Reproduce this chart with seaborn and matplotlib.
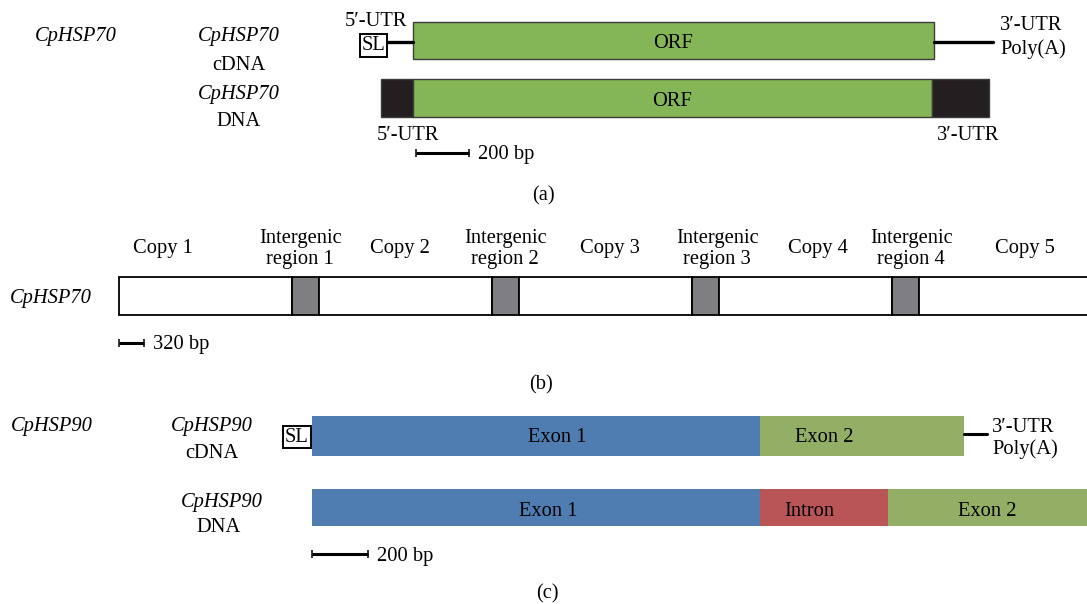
import numpy as np
import matplotlib.pyplot as plt
import seaborn as sns

# (a) CpHSP70 cDNA / DNA, lengths in bp
a_cdna_utr5_bp = 106
a_cdna_orf_bp = 1966
a_cdna_utr3_bp = 223
a_dna_parts = ["5′-UTR", "ORF", "3′-UTR"]
a_dna_bp = [121, 1958, 215]
a_scale_bp = 200

# (b) CpHSP70 tandem copies, lengths in bp
b_parts = ["Copy 1", "Intergenic\nregion 1", "Copy 2", "Intergenic\nregion 2", "Copy 3",
           "Intergenic\nregion 3", "Copy 4", "Intergenic\nregion 4", "Copy 5"]
b_bp = [2210, 350, 2210, 350, 2210, 350, 2210, 350, 2210]
b_scale_bp = 320

# (c) CpHSP90 cDNA / DNA, lengths in bp
c_cdna_parts = ["Exon 1", "Exon 2"]
c_cdna_bp = [1600, 729]
c_cdna_utr3_bp = 82
c_dna_parts = ["Exon 1", "Intron", "Exon 2"]
c_dna_bp = [1600, 457, 729]
c_scale_bp = 200

sns.set_style("white")
plt.rcParams['font.family'] = ['Liberation Serif', 'DejaVu Serif']
plt.rcParams['text.color'] = 'black'
fs = 14.8
dy = 2  # small vertical nudge so text sits like the original

ORF_GREEN = '#84b657'
UTR_BLACK = '#231f20'
IGR_GREY = '#7f7f83'
EXON1 = '#4f7cb1'
EXON2 = '#93af66'
INTRON = '#b95457'

fig = plt.figure(figsize=(10.87, 6.04), dpi=100)
ax = fig.add_axes([0, 0, 1, 1])
ax.set_xlim(0, 1087)
ax.set_ylim(604, 0)
ax.axis('off')


def label(x, y, s, **kw):
    kw.setdefault('ha', 'center')
    ax.text(x, y + dy, s, fontsize=fs, va='center', **kw)


def track(y, lengths_bp, x0, scale, height, colors, ec='none', lw=0):
    px = np.array(lengths_bp) * scale
    lefts = x0 + np.concatenate([[0], np.cumsum(px)[:-1]])
    ax.barh(y, px, left=lefts, height=height, color=colors, edgecolor=ec, linewidth=lw)
    return lefts, px


def scale_bar(x0, y, length_bp, scale, text):
    ax.plot([x0, x0 + length_bp * scale], [y, y], color='black', lw=2.2,
            marker='|', ms=6, mew=1.1, solid_capstyle='butt')
    label(x0 + length_bp * scale + 9, y, text, ha='left')


def sl_box(x, y):
    ax.text(x, y + 1, "SL", fontsize=fs, ha='center', va='center',
            bbox=dict(boxstyle='square,pad=0.08', fc='white', ec='black', lw=1.4))


# ---------- panel (a) ----------
a_x0, a_sc = 413, 53 / 200
label(76, 35, "CpHSP70", style='italic')
label(239, 35, "CpHSP70", style='italic')
label(239, 63, "cDNA")
label(239, 92, "CpHSP70", style='italic')
label(239, 119, "DNA")

# cDNA row
l5 = a_cdna_utr5_bp * a_sc
orf_end = a_x0 + a_cdna_orf_bp * a_sc
ax.plot([a_x0 - l5, a_x0], [42, 42], color='black', lw=2.4)
ax.plot([orf_end, orf_end + a_cdna_utr3_bp * a_sc], [42, 42], color='black', lw=2.4)
track(40.5, [a_cdna_orf_bp], a_x0, a_sc, 37, [ORF_GREEN], ec='#3c3c3c', lw=1)
label((a_x0 + orf_end) / 2, 42, "ORF")
sl_box(a_x0 - l5 - 11.5, 44.5)
label(376, 20, "5′-UTR")
label(1000, 24, "3′-UTR", ha='left')
label(1000, 47, "Poly(A)", ha='left')

# DNA row
lefts, px = track(98, a_dna_bp, a_x0 - a_dna_bp[0] * a_sc, a_sc, 38,
                  [UTR_BLACK, ORF_GREEN, UTR_BLACK], ec='#3c3c3c', lw=1)
label(lefts[1] + px[1] / 2, 99, a_dna_parts[1])
label(lefts[0] + 27, 133, a_dna_parts[0])
label(lefts[2] + 36, 133, a_dna_parts[2])
scale_bar(a_x0 + 3, 153, a_scale_bp, a_sc, "200 bp")
label(543, 194, "(a)")

# ---------- panel (b) ----------
b_x0, b_sc = 119, 25 / 320
b_colors = ['white' if p.startswith('Copy') else IGR_GREY for p in b_parts]
lefts, px = track(296, b_bp, b_x0, b_sc, 38, b_colors, ec='black', lw=1.3)
b_nudge = [-42, -5, -5, 0, 5, 12, 13, 6, 20]
for p, l, w, dx in zip(b_parts, lefts, px, b_nudge):
    ax.text(l + w / 2 + dx, 247 + dy, p, fontsize=fs, ha='center', va='center', linespacing=1.1)
label(51, 297, "CpHSP70", style='italic')
scale_bar(b_x0, 343, b_scale_bp, b_sc, "320 bp")
label(541, 383, "(b)")

# ---------- panel (c) ----------
c_x0, c_sc = 312, 56 / 200
label(52, 424, "CpHSP90", style='italic')
label(212, 424, "CpHSP90", style='italic')
label(212, 452, "cDNA")
label(222, 500, "CpHSP90", style='italic')
label(219, 526, "DNA")

lefts, px = track(436, c_cdna_bp, c_x0, c_sc, 40, [EXON1, EXON2])
for p, l, w, dx in zip(c_cdna_parts, lefts, px, [21, -38]):
    label(l + w / 2 + dx, 436, p)
cdna_end = lefts[-1] + px[-1]
ax.plot([cdna_end, cdna_end + c_cdna_utr3_bp * c_sc], [434, 434], color='black', lw=2.2)
label(992, 426, "3′-UTR", ha='left')
label(992, 447, "Poly(A)", ha='left')
sl_box(c_x0 - 15, 436)

lefts, px = track(507.5, c_dna_bp, c_x0, c_sc, 37, [EXON1, INTRON, EXON2])
for p, l, w, dx in zip(c_dna_parts, lefts, px, [12, -15, -3]):
    label(l + w / 2 + dx, 509, p)
scale_bar(c_x0, 554, c_scale_bp, c_sc, "200 bp")
label(547, 592, "(c)")

fig.savefig('out.png', dpi=100)
